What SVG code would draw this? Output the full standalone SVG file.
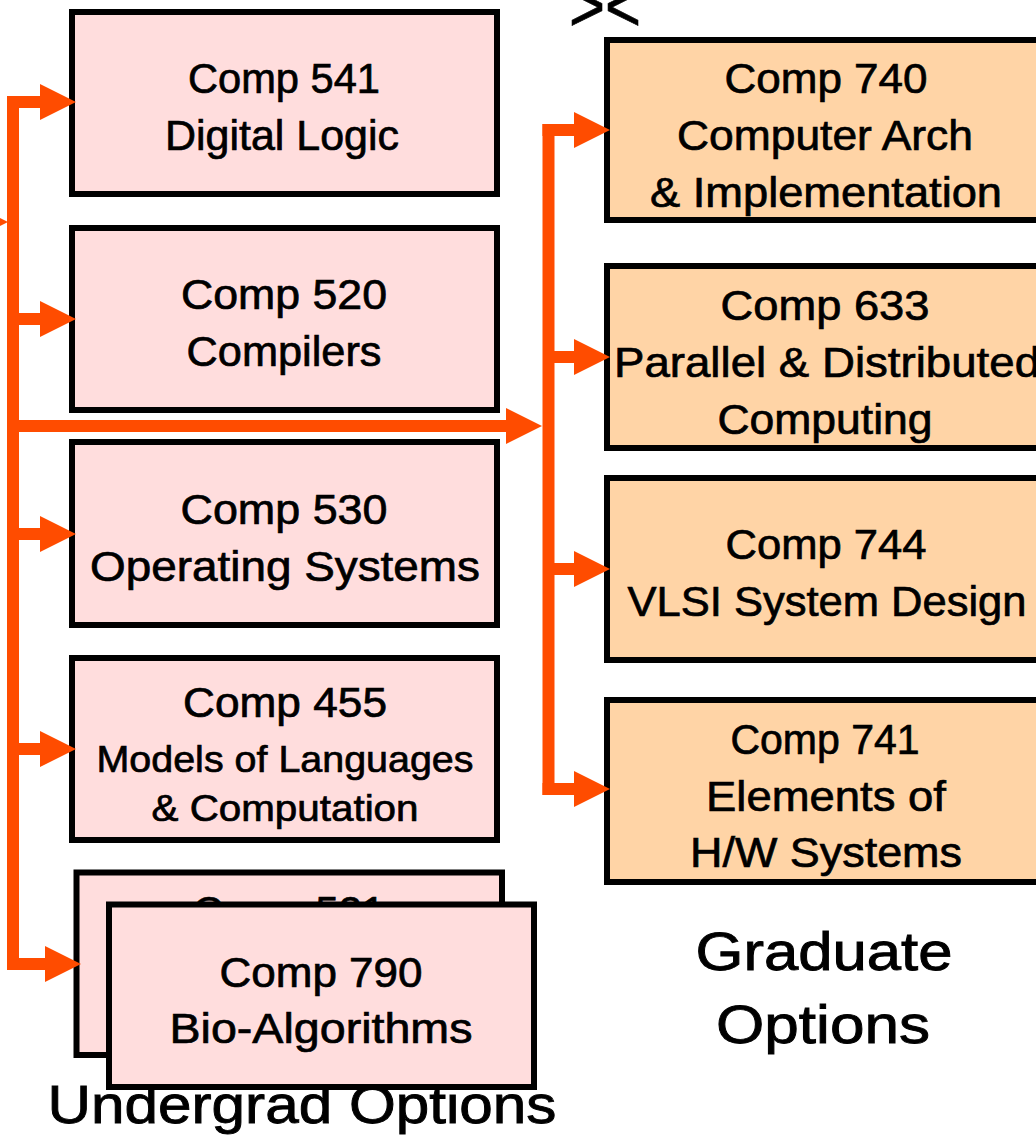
<svg xmlns="http://www.w3.org/2000/svg" width="1036" height="1140" viewBox="0 0 1036 1140">
  <defs>
    <marker id="head" markerUnits="userSpaceOnUse" markerWidth="36" markerHeight="36" refX="0" refY="18" orient="auto" overflow="visible">
      <path d="M0,0 L36,18 L0,36 Z" fill="#FF4C00"/>
    </marker>
    <style>
      .ug { fill: #FFDDDD; stroke: #000; stroke-width: 6; }
      .gr { fill: #FFD4A6; stroke: #000; stroke-width: 6; }
      text { font-family: "Liberation Sans", Arial, sans-serif; fill: #000; stroke: #000; stroke-width: 0.7; text-anchor: middle; }
      .t { font-size: 42px; }
      .s { font-size: 37px; }
      .lbl { font-size: 54px; stroke-width: 0.9; }
      .wire { fill: none; stroke: #FF4C00; stroke-width: 12; }
      .arr { fill: none; stroke: #FF4C00; stroke-width: 12; marker-end: url(#head); }
    </style>
  </defs>
  <rect width="1036" height="1140" fill="#fff"/>

  <!-- fragment of a heading above the graduate column -->
  <text x="605" y="31" style="font-size:72px" textLength="72" lengthAdjust="spacingAndGlyphs">&gt;&lt;</text>

  <!-- column labels -->
  <text id="label-undergrad" class="lbl" x="302" y="1123" textLength="509" lengthAdjust="spacingAndGlyphs">Undergrad Options</text>
  <g id="label-graduate">
    <text class="lbl" x="824" y="970" textLength="257" lengthAdjust="spacingAndGlyphs">Graduate</text>
    <text class="lbl" x="823" y="1043" textLength="214" lengthAdjust="spacingAndGlyphs">Options</text>
  </g>

  <!-- undergraduate courses -->
  <g id="comp541">
    <rect class="ug" x="72" y="12" width="425" height="182"/>
    <text class="t" x="284" y="93" textLength="192" lengthAdjust="spacingAndGlyphs">Comp 541</text>
    <text class="t" x="282" y="150" textLength="234" lengthAdjust="spacingAndGlyphs">Digital Logic</text>
  </g>
  <g id="comp520">
    <rect class="ug" x="72" y="228" width="425" height="182"/>
    <text class="t" x="284" y="309" textLength="206" lengthAdjust="spacingAndGlyphs">Comp 520</text>
    <text class="t" x="284" y="366" textLength="195" lengthAdjust="spacingAndGlyphs">Compilers</text>
  </g>
  <g id="comp530">
    <rect class="ug" x="72" y="442" width="425" height="183"/>
    <text class="t" x="284" y="524" textLength="207" lengthAdjust="spacingAndGlyphs">Comp 530</text>
    <text class="t" x="285" y="581" textLength="390" lengthAdjust="spacingAndGlyphs">Operating Systems</text>
  </g>
  <g id="comp455">
    <rect class="ug" x="72" y="658" width="425" height="182"/>
    <text class="t" x="285" y="717" textLength="204" lengthAdjust="spacingAndGlyphs">Comp 455</text>
    <text class="s" x="285" y="772" textLength="377" lengthAdjust="spacingAndGlyphs">Models of Languages</text>
    <text class="s" x="285" y="821" textLength="267" lengthAdjust="spacingAndGlyphs">&amp; Computation</text>
  </g>
  <g id="comp521">
    <rect class="ug" x="76.5" y="872.5" width="425.5" height="182.5"/>
    <text class="t" x="289" y="926" textLength="192" lengthAdjust="spacingAndGlyphs">Comp 521</text>
  </g>
  <g id="comp790">
    <rect class="ug" x="109" y="904.5" width="425" height="182.5"/>
    <text class="t" x="321" y="987" textLength="203" lengthAdjust="spacingAndGlyphs">Comp 790</text>
    <text class="t" x="321" y="1043" textLength="303" lengthAdjust="spacingAndGlyphs">Bio-Algorithms</text>
  </g>

  <!-- graduate courses -->
  <g id="comp740">
    <rect class="gr" x="607" y="40" width="440" height="180"/>
    <text class="t" x="826" y="93" textLength="203" lengthAdjust="spacingAndGlyphs">Comp 740</text>
    <text class="t" x="825" y="150" textLength="296" lengthAdjust="spacingAndGlyphs">Computer Arch</text>
    <text class="t" x="826" y="207" textLength="352" lengthAdjust="spacingAndGlyphs">&amp; Implementation</text>
  </g>
  <g id="comp633">
    <rect class="gr" x="607" y="266" width="440" height="182"/>
    <text class="t" x="825" y="320" textLength="209" lengthAdjust="spacingAndGlyphs">Comp 633</text>
    <text class="t" x="827" y="377" textLength="426" lengthAdjust="spacingAndGlyphs">Parallel &amp; Distributed</text>
    <text class="t" x="825" y="434" textLength="215" lengthAdjust="spacingAndGlyphs">Computing</text>
  </g>
  <g id="comp744">
    <rect class="gr" x="607" y="478" width="440" height="182"/>
    <text class="t" x="826" y="559" textLength="201" lengthAdjust="spacingAndGlyphs">Comp 744</text>
    <text class="t" x="827" y="616" textLength="399" lengthAdjust="spacingAndGlyphs">VLSI System Design</text>
  </g>
  <g id="comp741">
    <rect class="gr" x="607" y="700" width="440" height="182"/>
    <text class="t" x="825" y="754" textLength="189" lengthAdjust="spacingAndGlyphs">Comp 741</text>
    <text class="t" x="826" y="811" textLength="240" lengthAdjust="spacingAndGlyphs">Elements of</text>
    <text class="t" x="826" y="867" textLength="272" lengthAdjust="spacingAndGlyphs">H/W Systems</text>
  </g>

  <!-- prerequisite flow -->
  <g id="connectors">
    <!-- left bus feeding the undergraduate options -->
    <path class="wire" d="M13,96 V970"/>
    <path class="arr" d="M-40,222 H-28"/>
    <path class="arr" d="M7,102 H40"/>
    <path class="arr" d="M13,319 H40"/>
    <path class="arr" d="M13,534 H40"/>
    <path class="arr" d="M13,749 H40"/>
    <path class="arr" d="M7,964 H45"/>
    <path class="arr" d="M13,426 H506"/>
    <!-- right bus feeding the graduate options -->
    <path class="wire" d="M548.5,124 V795"/>
    <path class="arr" d="M542.5,130 H574"/>
    <path class="arr" d="M548.5,357 H574"/>
    <path class="arr" d="M548.5,569 H574"/>
    <path class="arr" d="M542.5,789 H574"/>
  </g>
</svg>
